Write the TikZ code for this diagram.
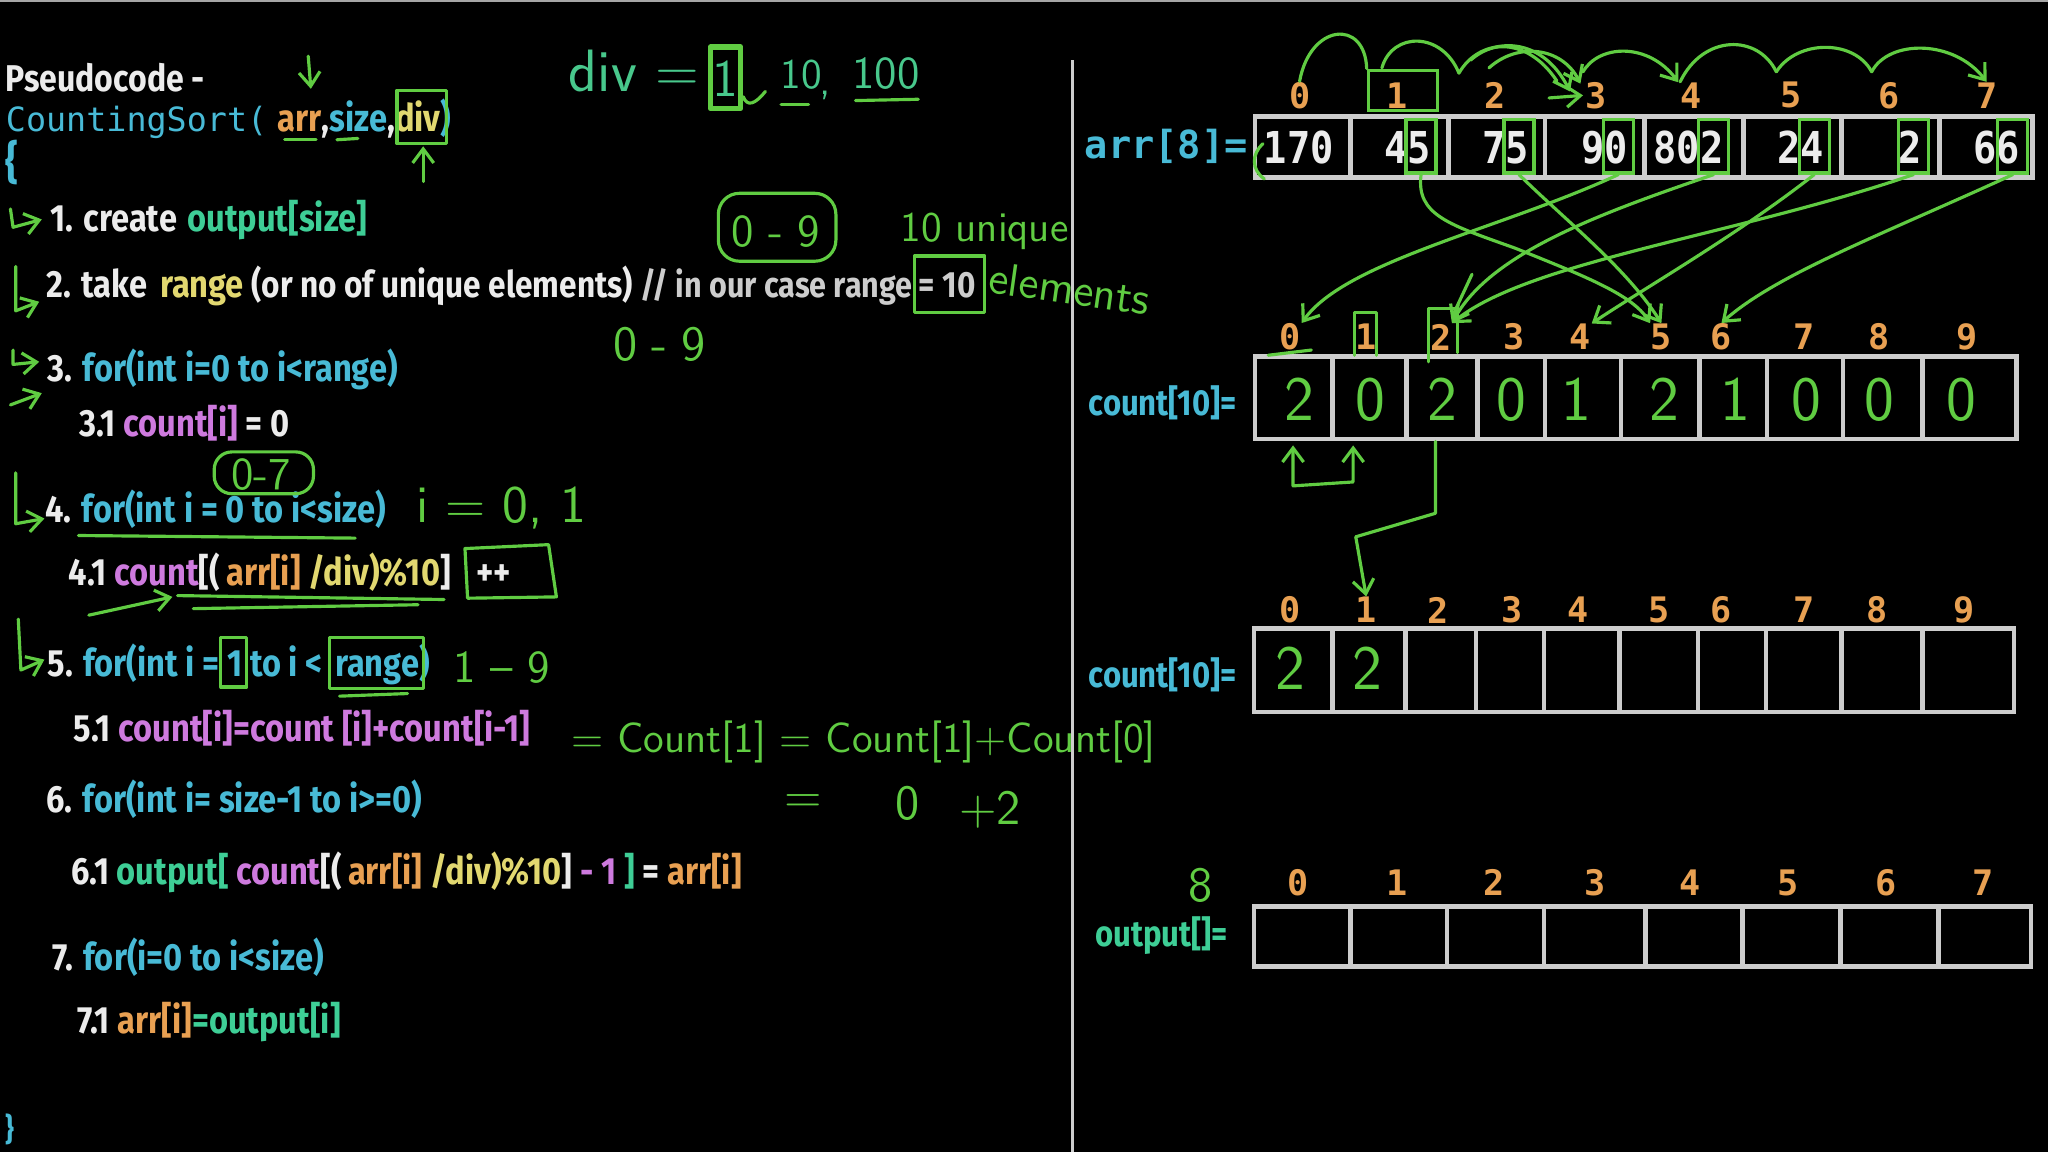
\documentclass[tikz,border=0pt]{standalone}
\usepackage{fontspec}
\usetikzlibrary{arrows.meta}
\newfontfamily\cf{Fira Sans}[FakeStretch=0.86]
\newfontfamily\mf{DejaVu Sans Mono}
\newfontfamily\mfn{DejaVu Sans Mono}[FakeStretch=0.88]
\definecolor{cy}{RGB}{72,186,214}
\definecolor{tg}{RGB}{62,206,150}
\definecolor{mg}{RGB}{206,122,222}
\definecolor{og}{RGB}{232,160,82}
\definecolor{yl}{RGB}{226,216,112}
\definecolor{hg}{RGB}{96,204,66}
\definecolor{ht}{RGB}{72,200,140}
\definecolor{wt}{RGB}{236,236,236}
\definecolor{lg}{RGB}{205,205,205}
\definecolor{gy}{RGB}{205,205,205}
\newcommand\fs[1]{\fontsize{#1}{#1}\selectfont}
\tikzset{
  code/.style={anchor=base west, inner sep=0pt, text=wt, font=\cf\bfseries\fs{10.8}},
  hand/.style={inner sep=0pt, text=hg, font=\sffamily\fs{#1}},
  hl/.style={draw=hg, line width=0.9pt, line cap=round, line join=round},
  harr/.style={hl, -{Straight Barb[length=4pt,width=6pt]}},
  cellb/.style={draw=gy, line width=1.3pt},
  idx/.style={inner sep=0pt, text=og, font=\mf\bfseries\fs{10}},
  aval/.style={inner sep=0pt, text=wt, font=\mfn\bfseries\fs{12.5}},
  gbox/.style={draw=hg, line width=0.9pt, minimum width=0.30cm, minimum height=0.535cm, inner sep=0pt},
}
\begin{document}
\begin{tikzpicture}[x=0.013061cm, y=-0.013061cm]
\useasboundingbox (0,0) rectangle (1568,882);
\fill[black] (0,0) rectangle (1568,882);
\draw[gray!70, line width=0.6pt] (0,1) -- (1568,1);
% divider
\draw[gy, line width=1pt] (821,46) -- (821,882);

% ---------------- pseudocode ----------------
\node[code] (t0) at (4,70) {\fs{10.6}Pseudocode -};
\node[code] (t1) at (4,101) {\textcolor{cy}{\mf\mdseries\fs{9.5}CountingSort(}\hspace{3pt}\textcolor{og}{arr}\textcolor{wt}{,}\textcolor{cy}{size}\textcolor{wt}{,}\textcolor{yl}{div}\textcolor{cy}{)}};
\node[code, text=cy] (t2) at (4,137) {\fs{13}\{};
\node[code] (t3) at (38,177) {1. create};
\node[code, text=tg] (t3b) at (143,177) {output[size]};
\node[code] (t4) at (35,228) {2. take};
\node[code, text=yl] (t4b) at (122,228) {range};
\node[code, font=\cf\bfseries\fs{10.45}] (t4c) at (192,228) {(or no of unique elements)};
\node[code, text=lg, font=\cf\bfseries\fs{10.1}] (t4d) at (490,228) {// in our case range};
\node[code, text=lg, font=\cf\bfseries\fs{10.4}] (t4e) at (703,228) {= 10};
\node[code] (t5) at (36,292) {3. \textcolor{cy}{for(int i=0 to i<range)}};
\node[code] (t6) at (60,334) {3.1 \textcolor{mg}{count[i]} = 0};
\node[code] (t7) at (34,400) {4. \textcolor{cy}{for(int i = 0 to i<size)}};
\node[code] (t8) at (52,448) {4.1 \textcolor{mg}{count}[(\,\textcolor{og}{arr[i]} \textcolor{yl}{/div)\%10}]};
\node[code] (t8b) at (364,448) {++};
\node[code] (t9) at (36,518) {5. \textcolor{cy}{for(int i =}};
\node[code, text=cy] (t9b) at (174,518) {1};
\node[code, text=cy] (t9c) at (191,518) {to i <};
\node[code, text=cy] (t9d) at (256,518) {range)};
\node[code] (t10) at (56,568) {5.1 \textcolor{mg}{count[i]=count [i]+count[i-1]}};
\node[code] (t11) at (35,622) {6. \textcolor{cy}{for(int i= size-1 to i>=0)}};
\node[code] (t12) at (54,677) {6.1 \textcolor{tg}{output[} \textcolor{mg}{count}[(\,\textcolor{og}{arr[i]} \textcolor{yl}{/div)\%10}] \textcolor{mg}{- 1} \textcolor{tg}{]} = \textcolor{og}{arr[i]}};
\node[code] (t13) at (40,743) {7. \textcolor{cy}{for(i=0 to i<size)}};
\node[code] (t14) at (59,791) {7.1 \textcolor{og}{arr[i]}\textcolor{tg}{=output[i]}};
\node[code, text=cy] (t15) at (4,873) {\fs{9}\}};

% ---------------- hand annotations (left) ----------------
\draw[harr] (236,43) -- (238,68);
\draw[hl] (218,107) -- (242,107);
\draw[hl] (258,107) -- (274,106);
\draw[hl] (304,69) rectangle (342,110);
\draw[harr] (324,139) -- (324,112);
\node[hand=17, text=ht, anchor=base west] (dv) at (435,70) {div =};
\draw[hl, line width=1.6pt] (544,36) rectangle (567,83);
\node[hand=15, text=ht] (dvone) at (555.5,60) {1};
\draw[hl] (569,74) .. controls (572,82) and (578,80) .. (586,70);
\node[hand=12, text=ht, anchor=base west] (dten) at (597,68) {10};
\node[hand=12, text=ht, anchor=base west] (dcm) at (627,72) {,};
\node[hand=13, text=ht, anchor=base west] (dhun) at (652,68) {100};
\draw[hl] (598,80) -- (619,80);
\draw[hl] (655,77) -- (703,76);
% hooks
\draw[harr] (8,160) -- (10,174) -- (32,168);
\draw[harr] (12,204) -- (12,238) -- (30,231);
\draw[harr] (10,268) -- (10,279) -- (30,277);
\draw[harr] (8,310) -- (32,301);
\draw[harr] (12,362) -- (12,401) -- (34,397);
\draw[harr] (14,474) -- (16,513) -- (34,505);
% 0-9 box, 10 unique elements
\draw[hl, rounded corners=6pt] (550,148) rectangle (640,200);
\node[hand=13] (r09) at (594,177) {0\hspace{4pt}-\hspace{4pt}9};
\node[hand=12, anchor=base west] (uq) at (689,185) {10 unique};
\draw[hl] (700,196) rectangle (754,239);
\node[hand=13, rotate=-8, anchor=west] (elm) at (757,212) {elements};
\node[hand=14] (r09b) at (505,264) {0\hspace{4pt}-\hspace{4pt}9};
% line 4
\draw[hl, rounded corners=5pt] (164,346) rectangle (240,378);
\node[hand=13] (r07) at (200,363) {0-7};
\node[hand=15, anchor=base west] (i01) at (318,400) {i = 0, 1};
\draw[hl] (60,410) -- (272,412);
% line 4.1
\draw[harr] (68,471) -- (132,457);
\draw[hl] (136,456) -- (340,459);
\draw[hl] (148,466) -- (320,463);
\draw[hl] (356,420) -- (420,417) -- (426,457) -- (358,458) -- cycle;
% line 5
\draw[hl] (169,488) rectangle (189,526);
\draw[hl] (252,488) rectangle (324,527);
\draw[hl] (260,533) -- (312,531);
\node[hand=13] (r19) at (384,511) {1 -- 9};
% formula
\node[hand=12, anchor=base west] (frm) at (437,576) {= Count[1] = Count[1]+Count[0]};
\node[hand=14] (fe) at (615,615) {=};
\node[hand=14] (fz) at (695,615) {0};
\node[hand=14] (fp) at (758,620) {+2};

% ---------------- arr[8] ----------------
\node[code, text=cy, font=\mf\bfseries\fs{11}] (arrl) at (830,121) {arr[8]=};
\draw[cellb] (961,89) rectangle (1556,136);
\foreach \x in {1034,1109,1183,1259,1335,1410,1485} \draw[cellb] (\x,89) -- (\x,136);
\node[aval, anchor=west] (v0) at (967,113) {170};
\node[aval, anchor=east] (v1) at (1096,113) {45};
\node[aval, anchor=east] (v2) at (1171,113) {75};
\node[aval, anchor=east] (v3) at (1247,113) {90};
\node[aval, anchor=east] (v4) at (1320,113) {802};
\node[aval, anchor=east] (v5) at (1397,113) {24};
\node[aval, anchor=east] (v6) at (1472,113) {2};
\node[aval, anchor=east] (v7) at (1547,113) {66};
\foreach \n/\x in {0/995,1/1070,2/1145,3/1222,4/1295,5/1371,6/1446,7/1521}
  \node[idx] (ai\n) at (\x,73) {\n};
% green boxes on last digits
\node[gbox] (g45) at (1088,112) {};
\node[gbox] (g75) at (1163,112) {};
\node[gbox] (g90) at (1239,112) {};
\node[gbox] (g802) at (1312,112) {};
\node[gbox] (g24) at (1389,112) {};
\node[gbox] (g2) at (1465,112) {};
\node[gbox] (g66) at (1541,112) {};
\draw[hl] (967,110) .. controls (958,118) and (958,130) .. (968,137);
\node[draw=hg, line width=0.9pt, minimum width=0.69cm, minimum height=0.40cm, inner sep=0pt] (bx1) at (1074,69) {};
% arcs above indices
\draw[hl] (ai0.north) .. controls (1003,18) and (1045,14) .. (bx1.north west);
\draw[hl] (1058,52) .. controls (1066,24) and (1104,24) .. (1117,56);
\draw[hl] (1117,56) .. controls (1132,30) and (1168,26) .. (1192,62);
\draw[harr] (1126,46) .. controls (1146,28) and (1182,30) .. (1202,70);
\draw[harr] (1140,52) .. controls (1162,32) and (1196,36) .. (1210,64);
\draw[harr] (1186,75) -- (1212,73);
\draw[harr] (1212,55) .. controls (1224,34) and (1262,32) .. (1285,63);
\draw[hl] (ai4.north west) .. controls (1304,26) and (1346,26) .. (1360,55);
\draw[hl] (1360,55) .. controls (1376,30) and (1420,30) .. (1433,55);
\draw[harr] (1433,55) .. controls (1446,30) and (1496,30) .. (ai7.north);

% ---------------- count[10] (1) ----------------
\node[code, text=cy, font=\cf\bfseries\fs{10.3}] (cl1) at (833,318) {count[10]=};
\draw[cellb] (961,273) rectangle (1544,336);
\foreach \x in {1020,1077,1131,1183,1241,1301,1353,1411,1472} \draw[cellb] (\x,273) -- (\x,336);
\foreach \n/\x in {0/988,1/1046,2/1103,3/1159,4/1210,5/1272,6/1318,7/1381,8/1439,9/1506}
  \node[idx] (ci\n) at (\x,258) {\n};
\foreach \n/\x/\v in {0/995/2,1/1049/0,2/1104/2,3/1157/0,4/1207/1,5/1274/2,6/1329/1,7/1383/0,8/1439/0,9/1502/0}
  \node[hand=18] (cv\n) at (\x,306) {\v};
\draw[hl] (1037,272) -- (1037,239) -- (1054,239) -- (1054,272);
\draw[hl] (1094,277) -- (1094,236) -- (1116,236) -- (1116,270);
\draw[hl] (971,272) -- (1004,268);
% arr -> count connectors
\draw[harr] (g45.south) .. controls (1084,165) and (1110,172) .. (1160,190) .. controls (1215,212) and (1250,226) .. (ci5.north west);
\draw[harr] (g75.south) .. controls (1200,170) and (1245,205) .. (ci5.north);
\draw[harr] (g90.south) .. controls (1150,175) and (1030,200) .. (ci0.north east);
\draw[harr] (g802.south) .. controls (1220,165) and (1140,195) .. (ci2.north east);
\draw[harr] (g2.south) .. controls (1330,180) and (1170,200) .. (ci2.north east);
\draw[harr] (g24.south) .. controls (1330,180) and (1260,220) .. (ci4.north east);
\draw[harr] (g66.south) .. controls (1440,180) and (1360,210) .. (ci6.north);
\draw[hl] (1127,210) -- (1113,240);
% below count 1
\draw[hl, {Straight Barb[length=4pt,width=6pt]}-{Straight Barb[length=4pt,width=6pt]}] (990,341) -- (990,372) -- (1036,369) -- (1036,341);

% ---------------- count[10] (2) ----------------
\node[code, text=cy, font=\cf\bfseries\fs{10.3}] (cl2) at (833,526) {count[10]=};
\draw[cellb] (960,481) rectangle (1542,545);
\foreach \x in {1020,1076,1130,1182,1240,1300,1352,1410,1472} \draw[cellb] (\x,481) -- (\x,545);
\foreach \n/\x in {0/988,1/1046,2/1101,3/1158,4/1208,5/1270,6/1318,7/1381,8/1437,9/1504}
  \node[idx] (di\n) at (\x,467) {\n};
\node[hand=18] (dv0) at (988,512) {2};
\node[hand=18] (dv1) at (1047,512) {2};
\draw[harr] (1099,338) -- (1099,393) -- (1038,411) -- (di1.north);

% ---------------- output ----------------
\node[hand=14] (o8) at (919,678) {8};
\node[code, text=tg, font=\cf\bfseries\fs{10.3}] (ol) at (838,725) {output[]=};
\draw[cellb] (960,694) rectangle (1555,740);
\foreach \x in {1034,1108,1182,1260,1334,1409,1484} \draw[cellb] (\x,694) -- (\x,740);
\foreach \n/\x in {0/994,1/1070,2/1144,3/1221,4/1294,5/1369,6/1444,7/1518}
  \node[idx] (oi\n) at (\x,676) {\n};
\end{tikzpicture}
\end{document}
